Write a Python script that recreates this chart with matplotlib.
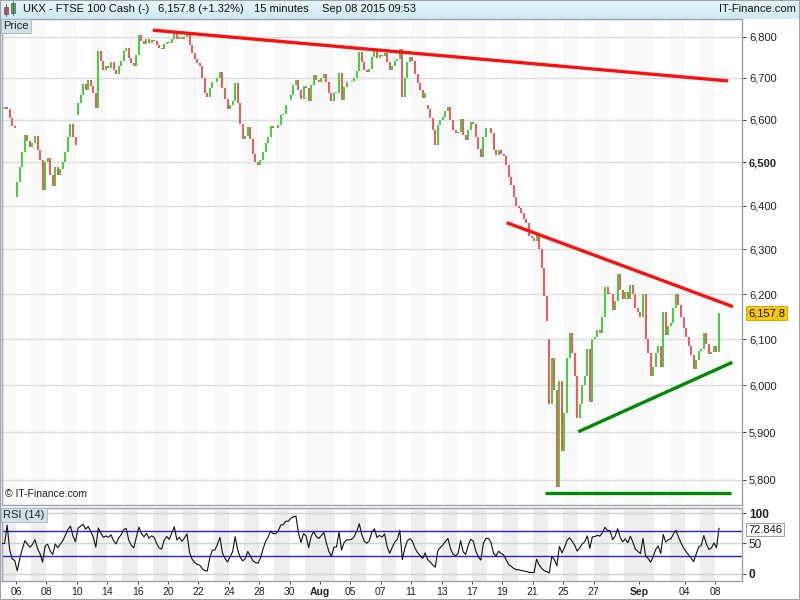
import matplotlib
matplotlib.use("Agg")
import matplotlib.pyplot as plt
from matplotlib.patches import Rectangle
from matplotlib.colors import LinearSegmentedColormap
import numpy as np
import pandas as pd

plt.rcParams["font.family"] = ["Liberation Sans", "DejaVu Sans"]

# trading days shown (Jul 03 is the partial day at the left edge)
days = [
    "07-03", "07-06", "07-07", "07-08", "07-09", "07-10", "07-13", "07-14", "07-15", "07-16",
    "07-17", "07-20", "07-21", "07-22", "07-23", "07-24", "07-27", "07-28", "07-29", "07-30",
    "07-31", "08-03", "08-04", "08-05", "08-06", "08-07", "08-10", "08-11", "08-12", "08-13",
    "08-14", "08-17", "08-18", "08-19", "08-20", "08-21", "08-24", "08-25", "08-26", "08-27",
    "08-28", "08-31", "09-01", "09-02", "09-03", "09-04", "09-07", "09-08",
]
BARS_PER_DAY = 6
RSI_PERIOD = 5  # RSI(14) on 15 min bars, rescaled to the coarser samples

# closes, six samples per day
closes = [
    6625, 6630, 6625, 6605, 6585, 6580,   # 07-03
    6455, 6490, 6525, 6565, 6550, 6535,   # 07-06
    6545, 6562, 6530, 6505, 6435, 6500,   # 07-07
    6510, 6470, 6445, 6490, 6470, 6485,   # 07-08
    6500, 6525, 6560, 6590, 6560, 6540,   # 07-09
    6640, 6660, 6685, 6670, 6695, 6680,   # 07-10
    6665, 6628, 6765, 6740, 6720, 6730,   # 07-13
    6725, 6738, 6720, 6710, 6730, 6742,   # 07-14
    6765, 6772, 6748, 6735, 6728, 6755,   # 07-15
    6805, 6790, 6782, 6795, 6785, 6792,   # 07-16
    6790, 6780, 6772, 6770, 6782, 6788,   # 07-17
    6785, 6795, 6810, 6795, 6800, 6795,   # 07-20
    6800, 6806, 6780, 6760, 6745, 6735,   # 07-21
    6730, 6700, 6665, 6655, 6675, 6690,   # 07-22
    6690, 6700, 6715, 6675, 6650, 6625,   # 07-23
    6635, 6645, 6688, 6640, 6590, 6555,   # 07-24
    6562, 6582, 6555, 6520, 6500, 6495,   # 07-27
    6505, 6525, 6545, 6560, 6585, 6580,   # 07-28
    6580, 6588, 6612, 6615, 6635, 6635,   # 07-29
    6660, 6682, 6695, 6670, 6650, 6680,   # 07-30
    6675, 6645, 6682, 6708, 6695, 6690,   # 07-31
    6700, 6710, 6690, 6665, 6645, 6665,   # 08-03
    6665, 6712, 6648, 6678, 6690, 6690,   # 08-04
    6692, 6700, 6718, 6762, 6738, 6720,   # 08-05
    6715, 6722, 6750, 6765, 6748, 6755,   # 08-06
    6752, 6760, 6738, 6720, 6730, 6740,   # 08-07
    6745, 6770, 6655, 6700, 6738, 6750,   # 08-10
    6740, 6710, 6688, 6670, 6652, 6665,   # 08-11
    6625, 6605, 6575, 6540, 6588, 6600,   # 08-12
    6608, 6620, 6630, 6600, 6575, 6568,   # 08-13
    6572, 6602, 6565, 6552, 6575, 6595,   # 08-14
    6590, 6560, 6532, 6512, 6560, 6580,   # 08-17
    6580, 6570, 6530, 6518, 6528, 6520,   # 08-18
    6515, 6495, 6465, 6448, 6420, 6400,   # 08-19
    6395, 6382, 6370, 6360, 6330, 6325,   # 08-20
    6320, 6335, 6300, 6258, 6195, 6140,   # 08-21
    5960, 6060, 5990, 5785, 6010, 5860,   # 08-24
    5940, 6060, 6115, 6070, 6020, 5930,   # 08-25
    5960, 6000, 6020, 6080, 5965, 6100,   # 08-26
    6105, 6120, 6115, 6150, 6215, 6200,   # 08-27
    6200, 6165, 6185, 6245, 6210, 6190,   # 08-28
    6205, 6190, 6220, 6200, 6170, 6160,   # 08-31
    6150, 6200, 6100, 6070, 6020, 6040,   # 09-01
    6070, 6085, 6040, 6160, 6110, 6130,   # 09-02
    6135, 6170, 6200, 6175, 6150, 6125,   # 09-03
    6105, 6085, 6065, 6035, 6055, 6075,   # 09-04
    6080, 6115, 6090, 6068, 6072, 6085,   # 09-07
    6072, 6157.8,                         # 09-08 (till 09:53)
]
# opening gaps (other days open at the previous close)
gap_opens = {"07-06": 6420, "07-10": 6612, "07-30": 6648, "08-12": 6635, "08-24": 6100}

# x axis labels
tick_days = ["07-06", "07-08", "07-10", "07-14", "07-16", "07-20", "07-22", "07-24", "07-28",
             "07-30", "08-03", "08-05", "08-07", "08-11", "08-13", "08-17", "08-19", "08-21",
             "08-25", "08-27", "09-01", "09-04", "09-08"]
tick_text = ["06", "08", "10", "14", "16", "20", "22", "24", "28", "30", "Aug", "05", "07",
             "11", "13", "17", "19", "21", "25", "27", "Sep", "04", "08"]
price_ticks = [5800, 5900, 6000, 6100, 6200, 6300, 6400, 6500, 6600, 6700, 6800]

# hand-drawn trend lines: (day position, price)
red_lines = [([9.0, 46.84], [6816, 6693]), ([32.28, 47.17], [6361, 6172])]
green_lines = [([36.99, 47.13], [5901, 6050]), ([34.8, 47.02], [5772, 5772])]

last_price = "6,157.8"
last_rsi = "72.846"

# ---------------------------------------------------------------------------
n = len(closes)
xs = np.array([(i // BARS_PER_DAY) - 1 + (i % BARS_PER_DAY + 0.5) / BARS_PER_DAY for i in range(n)])
opens = []
for i in range(n):
    d = days[i // BARS_PER_DAY]
    if i % BARS_PER_DAY == 0 and d in gap_opens:
        opens.append(gap_opens[d])
    elif i == 0:
        opens.append(6628)
    else:
        opens.append(closes[i - 1])
opens = np.array(opens, dtype=float)
cl = np.array(closes, dtype=float)

s = pd.Series(cl)
delta = s.diff()
up = delta.clip(lower=0).ewm(alpha=1 / RSI_PERIOD, adjust=False).mean()
dn = (-delta.clip(upper=0)).ewm(alpha=1 / RSI_PERIOD, adjust=False).mean()
rsi = (100 - 100 / (1 + up / dn.replace(0, np.nan))).fillna(50).values

W, H = 800, 600
fig = plt.figure(figsize=(8, 6), dpi=100)
fig.patch.set_facecolor("white")

XL = ((2 - 16) / 15.2, (742 - 16) / 15.2)


def band_days(ax, color):
    for j, d in enumerate(days):
        if int(d[-2:]) % 2 == 1:
            ax.axvspan(j - 1, j, color=color, lw=0, zorder=0)


# header
hax = fig.add_axes([0, 1 - 19 / H, 1, 19 / H])
grad = np.linspace(0, 1, 50).reshape(-1, 1)
hax.imshow(grad, aspect="auto", extent=(0, 1, 0, 1),
           cmap=LinearSegmentedColormap.from_list("hd", ["#eaf6fb", "#cde8f4"]))
hax.set_xlim(0, 1)
hax.set_ylim(0, 1)
hax.set_axis_off()
hax.add_patch(Rectangle((4 / W, 0.25), 4 / W, 0.4, facecolor="#e05050", edgecolor="#555555", lw=0.5))
hax.plot([6 / W, 6 / W], [0.15, 0.8], color="#555555", lw=0.6)
hax.add_patch(Rectangle((11 / W, 0.3), 4 / W, 0.55, facecolor="#40c040", edgecolor="#555555", lw=0.5))
hax.plot([13 / W, 13 / W], [0.2, 0.95], color="#555555", lw=0.6)
for px, txt in [(23, "UKX - FTSE 100 Cash (-)"), (158, "6,157.8 (+1.32%)"),
                (254, "15 minutes"), (322, "Sep 08 2015 09:53")]:
    hax.text(px / W, 0.5, txt, ha="left", va="center", fontsize=8, color="#111111")
hax.text(796 / W, 0.5, "IT-Finance.com", ha="right", va="center", fontsize=8, color="#111111")

# price panel
ax = fig.add_axes([2 / W, 1 - 505 / H, 740 / W, 486 / H])
ax.set_yscale("log")
ax.set_xlim(*XL)
ax.set_ylim(5747.9, 6843.4)
band_days(ax, "#f9f9f9")
for p in price_ticks:
    ax.axhline(p, color="#dedede", lw=1.0, zorder=1)

green = cl >= opens
lo = np.minimum(opens, cl)
hi = np.maximum(opens, cl)
hi = np.where(hi - lo < 1.5, hi + 1.5, hi)
ax.vlines(xs[green], lo[green], hi[green], colors="#4ccc44", lw=1.5, zorder=3)
ax.vlines(xs[~green], lo[~green], hi[~green], colors="#e06262", lw=1.5, zorder=3)

for xx, yy in red_lines:
    ax.plot(xx, yy, color="#ff1010", lw=2.4, solid_capstyle="butt", zorder=4)
for xx, yy in green_lines:
    ax.plot(xx, yy, color="#008800", lw=2.4, solid_capstyle="butt", zorder=4)

ax.yaxis.tick_right()
ax.minorticks_off()
ax.set_yticks(price_ticks)
ax.set_yticklabels([f"{p:,}" for p in price_ticks], fontsize=8)
for lab, p in zip(ax.get_yticklabels(), price_ticks):
    if p == 6500:
        lab.set_fontweight("bold")
ax.yaxis.set_minor_locator(matplotlib.ticker.NullLocator())
ax.tick_params(axis="y", direction="out", length=3, pad=2, colors="#222222", width=0.6)
ax.set_xticks([])
for sp in ax.spines.values():
    sp.set_color("#9aa3ab")
    sp.set_linewidth(1.0)

ax.text(1.0 + 6 / 740, 6157.8, last_price, transform=ax.get_yaxis_transform(), ha="left",
        va="center", fontsize=8, color="#111111",
        bbox=dict(boxstyle="square,pad=0.15", facecolor="#f9c800", edgecolor="#c9a000", lw=0.6))
ax.text(3 / 740, 6 / 486, "\u00a9 IT-Finance.com", transform=ax.transAxes, ha="left",
        va="bottom", fontsize=7.5, color="#222222")
ax.text(1 / 740, 1 - 2 / 486, "Price", transform=ax.transAxes, ha="left", va="top",
        fontsize=8, color="#222222",
        bbox=dict(boxstyle="square,pad=0.2", facecolor="#d3e0e8", edgecolor="#a8b4bc", lw=0.6))

# RSI panel
rax = fig.add_axes([2 / W, 1 - 581 / H, 740 / W, 73 / H])
rax.set_xlim(*XL)
rax.set_ylim(-11.5, 108.2)
band_days(rax, "#eeeeee")
for lvl in (0, 50, 100):
    rax.axhline(lvl, color="#d2d2d2", lw=1.0, zorder=1)
for lvl in (30, 70):
    rax.axhline(lvl, color="#2525c8", lw=1.0, zorder=2)
rax.plot(xs, rsi, color="#111111", lw=0.8, zorder=3)
rax.yaxis.tick_right()
rax.set_yticks([0, 50, 100])
rax.set_yticklabels(["0", "50", "100"], fontsize=8.5)
rax.get_yticklabels()[0].set_fontweight("bold")
rax.get_yticklabels()[2].set_fontweight("bold")
rax.tick_params(axis="y", direction="out", length=3, pad=2, colors="#222222", width=0.6)
tick_pos = [days.index(d) - 1 for d in tick_days]
rax.set_xticks(tick_pos)
rax.set_xticklabels(tick_text, fontsize=7.5)
for lab, t in zip(rax.get_xticklabels(), tick_text):
    if t in ("Aug", "Sep"):
        lab.set_fontweight("bold")
rax.tick_params(axis="x", direction="out", length=2.5, pad=2, colors="#222222", width=0.6)
for sp in rax.spines.values():
    sp.set_color("#9aa3ab")
    sp.set_linewidth(1.0)
rax.text(1.0 + 6 / 740, 72.846, last_rsi, transform=rax.get_yaxis_transform(), ha="left",
         va="center", fontsize=8, color="#111111",
         bbox=dict(boxstyle="square,pad=0.15", facecolor="white", edgecolor="#8a949c", lw=0.6))
rax.text(1 / 740, 1 - 2 / 73, "RSI (14)", transform=rax.transAxes, ha="left", va="top",
         fontsize=8, color="#222222",
         bbox=dict(boxstyle="square,pad=0.2", facecolor="#d3e0e8", edgecolor="#a8b4bc", lw=0.6))

# outer frame
fig.patches.append(Rectangle((0, 0), 1, 1, transform=fig.transFigure, fill=False,
                             edgecolor="#9aa3ab", lw=1.5))

fig.savefig("out.png", dpi=100, facecolor="white")
